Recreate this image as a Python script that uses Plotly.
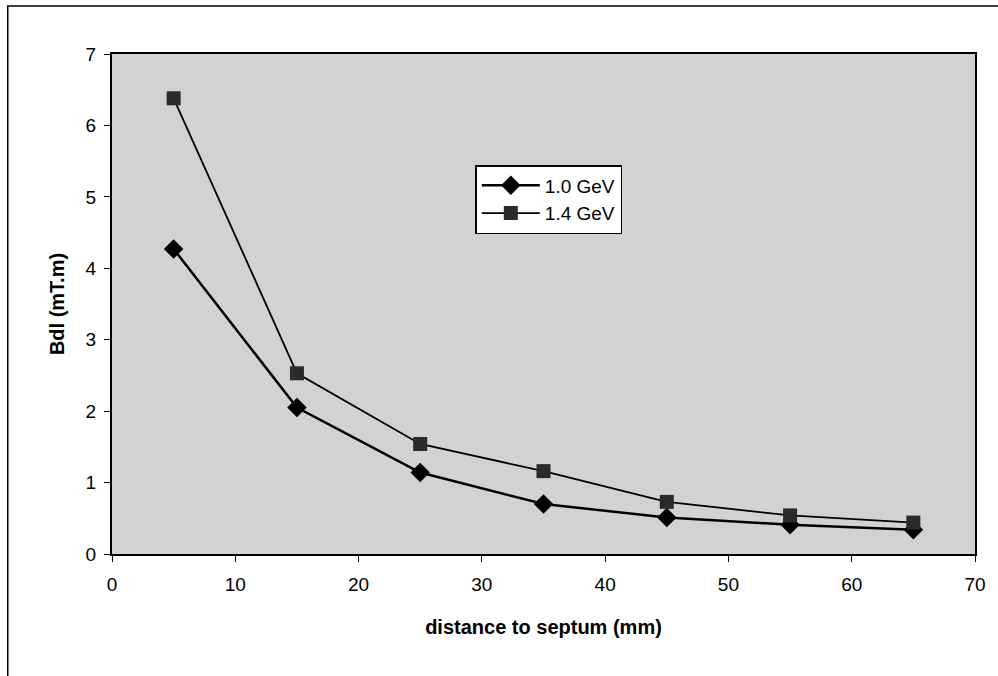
import plotly.graph_objects as go

x_mm = [5, 15, 25, 35, 45, 55, 65]
bdl_10 = [4.27, 2.05, 1.14, 0.70, 0.51, 0.41, 0.34]
bdl_14 = [6.38, 2.53, 1.54, 1.16, 0.73, 0.54, 0.44]
x_ticks = [0, 10, 20, 30, 40, 50, 60, 70]
y_ticks = [0, 1, 2, 3, 4, 5, 6, 7]

fig = go.Figure()
fig.add_trace(go.Scatter(
    x=x_mm, y=bdl_10, name="1.0 GeV", mode="lines+markers",
    line=dict(color="black", width=2.5),
    marker=dict(symbol="diamond", size=15, color="black"),
))
fig.add_trace(go.Scatter(
    x=x_mm, y=bdl_14, name="1.4 GeV", mode="lines+markers",
    line=dict(color="black", width=1.8),
    marker=dict(symbol="square", size=14, color="#2a2a2a"),
))

fig.update_layout(
    width=998, height=676,
    margin=dict(l=112, r=14, t=54, b=122),
    paper_bgcolor="white",
    plot_bgcolor="#d2d2d2",
    font=dict(family="Liberation Sans, Arial, sans-serif", size=18, color="black"),
    showlegend=True,
    legend=dict(
        x=0.421, y=0.778, xanchor="left", yanchor="top",
        bgcolor="white", bordercolor="black", borderwidth=1.5,
        font=dict(size=19), itemwidth=58,
    ),
    xaxis=dict(
        range=[0, 70], tickvals=x_ticks, showgrid=False, zeroline=False,
        showline=True, linecolor="black", linewidth=2, mirror=True,
        ticks="outside", ticklen=6, tickcolor="black",
        tickfont=dict(size=19), ticklabelstandoff=6,
        title=dict(text="<b>distance to septum (mm)</b>", font=dict(size=20), standoff=26),
    ),
    yaxis=dict(
        range=[0, 7], tickvals=y_ticks, showgrid=False, zeroline=False,
        showline=True, linecolor="black", linewidth=2, mirror=True,
        ticks="outside", ticklen=6, tickcolor="black",
        tickfont=dict(size=19), ticklabelstandoff=4,
        title=dict(text="<b>Bdl (mT.m)</b>", font=dict(size=20), standoff=16),
    ),
    shapes=[
        dict(type="rect", xref="paper", yref="paper",
             x0=-0.1208, x1=1.03, y0=-0.3, y1=1.096,
             line=dict(color="black", width=1.5), fillcolor="rgba(0,0,0,0)",
             layer="below"),
    ],
)

fig.write_html("out.html")
